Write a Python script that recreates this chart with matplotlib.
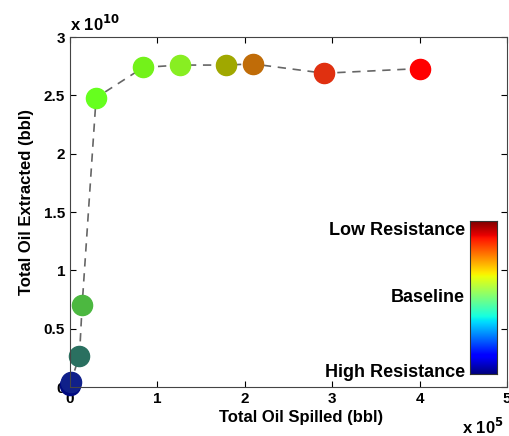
import numpy as np
import matplotlib.pyplot as plt

plt.rcParams['font.family'] = ['Liberation Sans', 'DejaVu Sans']
plt.rcParams['font.weight'] = 'bold'

spilled = [0.0, 0.01, 0.11, 0.14, 0.30, 0.84, 1.26, 1.79, 2.09, 2.91, 4.00]
extracted = [0.02, 0.04, 0.27, 0.70, 2.48, 2.74, 2.76, 2.76, 2.77, 2.69, 2.73]
colors = ['#000a80', '#10208a', '#2a7060', '#4cb840', '#66ff1e', '#73f21a',
          '#88ee22', '#a0a800', '#c06c08', '#e03010', '#ff0000']
bar_labels = ['High Resistance', 'Baseline', 'Low Resistance']

fig = plt.figure(figsize=(5.1, 4.36), dpi=100)
ax = fig.add_axes([0.137, 0.112, 0.857, 0.803])

ax.plot(spilled, extracted, color='#666666', lw=1.2, dashes=(5, 4), zorder=1)
for x, y, c in zip(spilled, extracted, colors):
    ax.plot(x, y, 'o', ms=14.5, color=c, mec=c, zorder=2, clip_on=False)

ax.set_xlim(0, 5)
ax.set_ylim(0, 3)
ax.set_xticks([0, 1, 2, 3, 4, 5])
ax.set_xticklabels(['0', '1', '2', '3', '4', '5'])
ax.set_yticks([0, 0.5, 1, 1.5, 2, 2.5, 3])
ax.set_yticklabels(['0', '0.5', '1', '1.5', '2', '2.5', '3'])
ax.tick_params(direction='in', top=True, right=True, labelsize=11, length=4)
for s in ax.spines.values():
    s.set_color('#444444')
ax.set_xlabel('Total Oil Spilled (bbl)', fontsize=12, fontweight='bold', labelpad=5)
ax.xaxis.set_label_coords(0.53, -0.065)
ax.set_ylabel('Total Oil Extracted (bbl)', fontsize=12, fontweight='bold', labelpad=8)
ax.yaxis.set_label_coords(-0.082, 0.53)
fig.text(0.137, 0.93, r'x 10$^{\mathbf{10}}$', fontsize=12, fontweight='bold')
fig.text(0.905, 0.005, r'x 10$^{\mathbf{5}}$', fontsize=12, fontweight='bold')

cax = fig.add_axes([0.922, 0.142, 0.053, 0.35])
grad = np.linspace(0, 1, 256).reshape(-1, 1)
cax.imshow(grad, aspect='auto', cmap='jet', origin='lower', extent=[0, 1, 0, 1])
cax.set_xticks([])
cax.set_yticks([])
for s in cax.spines.values():
    s.set_color('#333333')
for lab, yy in zip(bar_labels, [0.01, 0.5, 0.94]):
    cax.text(-0.2, yy, lab, transform=cax.transAxes, ha='right', va='center',
             fontsize=13, fontweight='bold')

fig.savefig('out.png', dpi=100)
